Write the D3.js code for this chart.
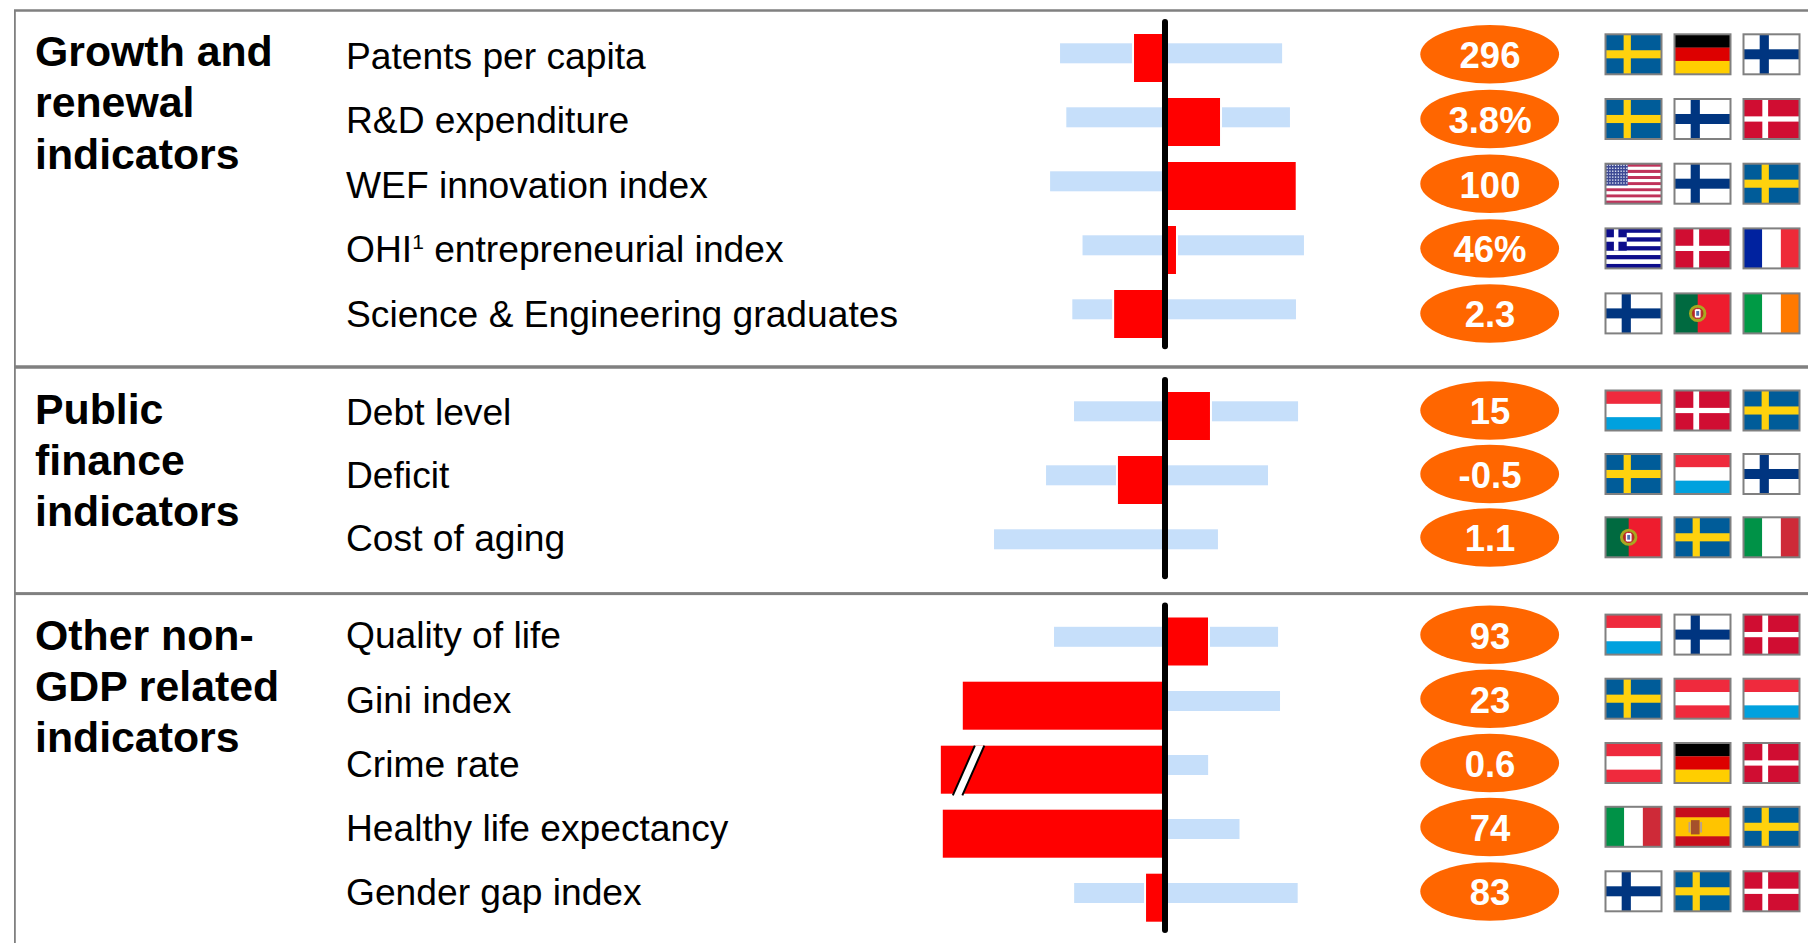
<!DOCTYPE html>
<html><head><meta charset="utf-8">
<style>html,body{margin:0;padding:0;background:#fff;overflow:hidden}svg{display:block}text{font-family:"Liberation Sans",Arial,sans-serif}</style>
<script src="https://cdnjs.cloudflare.com/ajax/libs/d3/7.8.5/d3.min.js"></script>
</head><body><div id="c"></div>
<script>
const sectionTitles=[["Growth and","renewal","indicators"],["Public","finance","indicators"],["Other non-","GDP related","indicators"]];
const labels=["Patents per capita","R&D expenditure","WEF innovation index","OHI¹ entrepreneurial index","Science & Engineering graduates","Debt level","Deficit","Cost of aging","Quality of life","Gini index","Crime rate","Healthy life expectancy","Gender gap index"];
const lightLow=[-80.3,-75.5,-87.9,-63.1,-70.9,-69.6,-91,-130.8,-84.9,-60,-30,-50,-69.5];
const lightHigh=[89.6,95.6,95,106.3,100.2,101.8,78.8,40.5,86.5,88,33,57,101.5];
const redValue=[-23.7,42.1,100,8.4,-38.9,34.4,-36,0,32.9,-154.7,-171.5,-170,-14.5];
const bestValue=["296","3.8%","100","46%","2.3","15","-0.5","1.1","93","23","0.6","74","83"];
const topThree=[["SE","DE","FI"],["SE","FI","DK"],["US","FI","SE"],["GR","DK","FR"],["FI","PT","IE"],["LU","DK","SE"],["SE","LU","FI"],["PT","SE","IT"],["LU","FI","DK"],["SE","AT","LU"],["AT","DE","DK"],["IT","ES","SE"],["FI","SE","DK"]];

const W=1808,H=943;
// layout
const zeroX=1165,unit=1.3071;
const x=d3.scaleLinear().domain([-100,100]).range([zeroX-100*unit,zeroX+100*unit]);
const rowTop=[34,98,162,226,290,392,456,520,617.5,681.7,745.7,809.7,873.7];
const labelBase=[69,133,197.5,262,326.5,425,488,551,648.4,713,777,841,905];
const ovalY=[54.3,119,183.7,248.5,313.5,410.5,474,537.5,634.7,698.7,763,827,891.5];
const flagTop=[33.3,98,162.7,227.4,292.4,389.5,453,516.3,613.6,677.7,742,805.8,870.3];
const svg=d3.select("#c").append("svg").attr("width",W).attr("height",H);
const rows=labels.map((l,i)=>({i,l,t:rowTop[i],base:labelBase[i],oy:ovalY[i],ft:flagTop[i],low:lightLow[i],high:lightHigh[i],red:redValue[i],best:bestValue[i],flags:topThree[i]}));

svg.append("defs").append("filter").attr("id","soft").attr("x","-5%").attr("y","-5%").attr("width","110%").attr("height","110%")
  .append("feGaussianBlur").attr("stdDeviation",0.55);

// frame
const gray="#808080";
[[10.5,2.5],[367,3.5],[593.6,3]].forEach(([y,h])=>svg.append("rect").attr("x",14).attr("y",y-h/2).attr("width",W-14).attr("height",h).attr("fill",gray));
svg.append("rect").attr("x",14).attr("y",10).attr("width",1.8).attr("height",H-10).attr("fill",gray);

// section titles
const titleY=[65.5,423.6,650],titleStep=[51.9,51.4,51];
sectionTitles.forEach((t,s)=>t.forEach((line,k)=>svg.append("text").attr("x",35).attr("y",titleY[s]+k*titleStep[s]).attr("font-size",42.8).attr("font-weight","bold").attr("fill","#000").text(line)));

// labels
const labelG=svg.append("g");
rows.forEach(r=>{
  const tx=labelG.append("text").attr("x",346).attr("y",r.base).attr("font-size",37.2).attr("fill","#000");
  if(r.l.includes("¹")){const [a,b]=r.l.split("¹");tx.append("tspan").text(a);tx.append("tspan").attr("font-size",21).attr("dy",-13).text("1");tx.append("tspan").attr("dy",13).text(b);}
  else tx.text(r.l);
});

// light bars
svg.append("g").selectAll("rect").data(rows).join("rect")
 .attr("x",d=>x(d.low)).attr("width",d=>x(d.high)-x(d.low)).attr("y",d=>d.t+9.3).attr("height",20).attr("fill","#C6DFFA");
// red bars with white halo
const red=rows.filter(d=>d.red!==0);
svg.append("g").selectAll("rect").data(red).join("rect")
 .attr("x",d=>Math.min(x(d.red),zeroX)).attr("width",d=>Math.abs(x(d.red)-zeroX)).attr("y",d=>d.t).attr("height",48)
 .attr("fill","#FF0000").attr("stroke","#fff").attr("stroke-width",4).attr("paint-order","stroke");
// break mark on crime rate
const cr=rows[10];
const bx0=x(cr.red)+34,bx1=x(cr.red)+12,by0=cr.t,by1=cr.t+49.6,gapW=9.5;
svg.append("path").attr("d",`M${bx0},${by0}L${bx0+gapW},${by0}L${bx1+gapW},${by1}L${bx1},${by1}Z`).attr("fill","#fff");
[0,gapW].forEach(o=>svg.append("line").attr("x1",bx0+o).attr("y1",by0).attr("x2",bx1+o).attr("y2",by1).attr("stroke","#000").attr("stroke-width",2));

// axis lines
[[rows[0],rows[4]],[rows[5],rows[7]],[rows[8],rows[12]]].forEach(([a,b])=>{
  svg.append("line").attr("x1",zeroX).attr("x2",zeroX).attr("y1",a.t-12).attr("y2",b.t+56.3).attr("stroke","#000").attr("stroke-width",6).attr("stroke-linecap","round");
});

// ellipses
svg.append("g").selectAll("ellipse").data(rows).join("ellipse").attr("cx",1489.7).attr("cy",d=>d.oy).attr("rx",69.4).attr("ry",29.2).attr("fill","#FF6600");
svg.append("g").selectAll("text").data(rows).join("text").attr("x",1490).attr("y",d=>d.oy+13.8).attr("text-anchor","middle").attr("font-size",36.5).attr("font-weight","bold").attr("fill","#fff").text(d=>d.best);

// flags
function stripesH(g,cols){const h=42/cols.length;cols.forEach((c,i)=>g.append("rect").attr("x",0).attr("y",i*h).attr("width",58).attr("height",h+.2).attr("fill",c));}
function stripesV(g,cols){const w=58/cols.length;cols.forEach((c,i)=>g.append("rect").attr("x",i*w).attr("y",0).attr("width",w+.2).attr("height",42).attr("fill",c));}
function cross(g,bg,fg,cx,w,h){g.append("rect").attr("width",58).attr("height",42).attr("fill",bg);
 g.append("rect").attr("x",cx-w/2).attr("y",0).attr("width",w).attr("height",42).attr("fill",fg);
 g.append("rect").attr("x",0).attr("y",21-h/2).attr("width",58).attr("height",h).attr("fill",fg);}
const draw={
 SE:g=>cross(g,"#005B99","#FFD20F",22.5,7.5,8.5),
 FI:g=>cross(g,"#fff","#003580",21.5,9.5,10.5),
 DK:g=>cross(g,"#D00C33","#fff",22.5,6,5.5),
 DE:g=>stripesH(g,["#000","#DD0000","#FFCE00"]),
 FR:g=>stripesV(g,["#00209F","#fff","#EE2939"]),
 IE:g=>stripesV(g,["#009A44","#fff","#FF7900"]),
 IT:g=>stripesV(g,["#009246","#fff","#CE2B37"]),
 LU:g=>stripesH(g,["#EF2B3D","#fff","#00A1DE"]),
 AT:g=>stripesH(g,["#EF2B3D","#fff","#EF2B3D"]),
 ES:g=>{g.append("rect").attr("width",58).attr("height",42).attr("fill","#C60B1E");g.append("rect").attr("y",11).attr("width",58).attr("height",20).attr("fill","#FFC400");
   g.append("rect").attr("x",17).attr("y",14).attr("width",9).attr("height",15).attr("fill","#A5502A");g.append("rect").attr("x",14.5).attr("y",16).attr("width",2).attr("height",11).attr("fill","#B9A090");g.append("rect").attr("x",26.5).attr("y",16).attr("width",2).attr("height",11).attr("fill","#B9A090");},
 PT:g=>{g.append("rect").attr("width",58).attr("height",42).attr("fill","#EE1C2E");g.append("rect").attr("width",24).attr("height",42).attr("fill","#006B3F");
   g.append("circle").attr("cx",24).attr("cy",21).attr("r",7.5).attr("fill","#B03020").attr("stroke","#A8A820").attr("stroke-width",3);
   g.append("rect").attr("x",20.5).attr("y",16).attr("width",7).attr("height",10).attr("rx",2).attr("fill","#fff").attr("stroke","#C02030");
   g.append("rect").attr("x",22.5).attr("y",18.5).attr("width",3).attr("height",5).attr("fill","#5070B0");},
 US:g=>{const n=13,h=42/n;for(let i=0;i<n;i++)g.append("rect").attr("y",i*h).attr("width",58).attr("height",h+.1).attr("fill",i%2?"#FFFFFF":"#C0305A");
   g.append("rect").attr("width",23).attr("height",23).attr("fill","#3C4A94");
   for(let a=0;a<7;a++)for(let b=0;b<8;b++)g.append("rect").attr("x",1+b*2.9).attr("y",1+a*3.1).attr("width",1.4).attr("height",1.4).attr("fill","#E8ECF8");},
 GR:g=>{const n=9,h=42/n;for(let i=0;i<n;i++)g.append("rect").attr("y",i*h).attr("width",58).attr("height",h+.1).attr("fill",i%2?"#fff":"#0A0F8C");
   g.append("rect").attr("width",22).attr("height",5*h).attr("fill","#0A0F8C");
   g.append("rect").attr("x",8.7).attr("width",h).attr("height",5*h).attr("fill","#fff");
   g.append("rect").attr("y",2*h).attr("width",22).attr("height",h).attr("fill","#fff");}
};
const flagX=[1604.5,1673.5,1742.5];
rows.forEach(r=>r.flags.forEach((f,k)=>{
  const g=svg.append("g").attr("transform",`translate(${flagX[k]},${r.ft})`);
  const inner=g.append("g").attr("filter","url(#soft)").attr("transform","translate(1,1) scale(.966,.952)");
  draw[f](inner);
  g.append("rect").attr("x",1).attr("y",1).attr("width",56).attr("height",40).attr("fill","none").attr("stroke",gray).attr("stroke-width",2);
}));
</script></body></html>
